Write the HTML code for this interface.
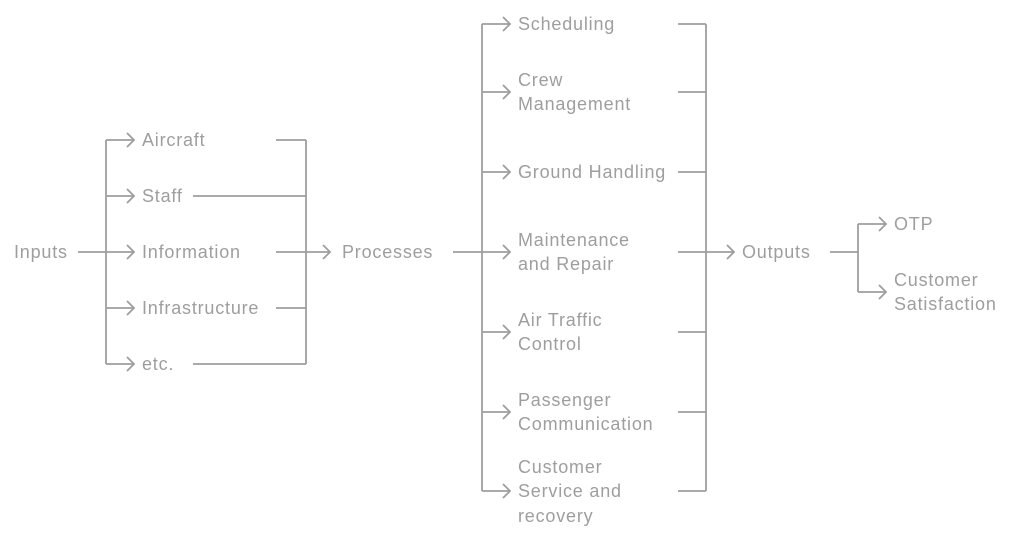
<!DOCTYPE html>
<html><head><meta charset="utf-8"><style>
html,body{margin:0;padding:0;background:#fff;}
svg{display:block;}
text{font-family:"Liberation Sans",sans-serif;font-size:18px;fill:#9e9e9e;letter-spacing:0.8px;}
</style></head><body>
<svg width="1024" height="540" viewBox="0 0 1024 540" xmlns="http://www.w3.org/2000/svg">
<g fill="none" stroke="#9e9e9e" stroke-width="1.8" stroke-linecap="butt">
<path d="M78 252H134"/>
<path d="M106 140V364"/>
<path d="M106 140H134M106 196H134M106 308H134M106 364H134"/>
<path d="M276 140H306M193 196H306M276 252H330M276 308H306M193 364H306"/>
<path d="M306 140V364"/>
<path d="M453 252H510"/>
<path d="M482 24V491"/>
<path d="M482 24H510M482 92H510M482 172H510M482 332H510M482 412H510M482 491H510"/>
<path d="M678 24H706M678 92H706M678 172H706M678 252H734M678 332H706M678 412H706M678 491H706"/>
<path d="M706 24V491"/>
<path d="M830 252H858M858 224V292M858 224H886M858 292H886"/>
<g stroke-linejoin="miter">
<path d="M127 133L134 140L127 147M127 189L134 196L127 203M127 245L134 252L127 259M127 301L134 308L127 315M127 357L134 364L127 371"/>
<path d="M323 245L330 252L323 259"/>
<path d="M503 17L510 24L503 31M503 85L510 92L503 99M503 165L510 172L503 179M503 245L510 252L503 259M503 325L510 332L503 339M503 405L510 412L503 419M503 484L510 491L503 498"/>
<path d="M727 245L734 252L727 259"/>
<path d="M879 217L886 224L879 231M879 285L886 292L879 299"/>
</g>
</g>
<g dominant-baseline="central">
<text x="14" y="252">Inputs</text>
<text x="142" y="140">Aircraft</text>
<text x="142" y="196">Staff</text>
<text x="142" y="252">Information</text>
<text x="142" y="308">Infrastructure</text>
<text x="142" y="364">etc.</text>
<text x="342" y="252">Processes</text>
<text x="518" y="24">Scheduling</text>
<text x="518" y="80">Crew</text>
<text x="518" y="104">Management</text>
<text x="518" y="172">Ground Handling</text>
<text x="518" y="240">Maintenance</text>
<text x="518" y="264">and Repair</text>
<text x="518" y="320">Air Traffic</text>
<text x="518" y="344">Control</text>
<text x="518" y="400">Passenger</text>
<text x="518" y="424">Communication</text>
<text x="518" y="467">Customer</text>
<text x="518" y="491">Service and</text>
<text x="518" y="516">recovery</text>
<text x="742" y="252">Outputs</text>
<text x="894" y="224">OTP</text>
<text x="894" y="280">Customer</text>
<text x="894" y="304">Satisfaction</text>
</g>
</svg>
</body></html>
